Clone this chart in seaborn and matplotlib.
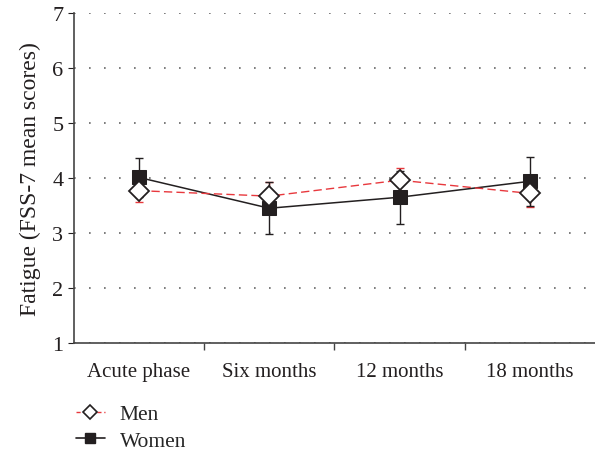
import numpy as np
import pandas as pd
import seaborn as sns
import matplotlib.pyplot as plt
from matplotlib.lines import Line2D

# values
timepoints = ['Acute phase', 'Six months', '12 months', '18 months']
men_mean = [3.77, 3.67, 3.96, 3.72]
men_err = [0.20, 0.25, 0.22, 0.25]
women_mean = [4.01, 3.45, 3.65, 3.94]
women_err = [0.35, 0.47, 0.48, 0.45]

df = pd.DataFrame({
    'time': timepoints * 2,
    'score': men_mean + women_mean,
    'sex': ['Men'] * 4 + ['Women'] * 4,
})

sns.set_style('ticks')
plt.rcParams['font.family'] = ['Liberation Serif', 'DejaVu Serif']

fig = plt.figure(figsize=(5.95, 4.52), dpi=100)
ax = fig.add_axes([0.124, 0.239, 0.876, 0.730])

xpos = np.arange(len(timepoints))

# error bars first so the markers sit on top
ax.errorbar(xpos, men_mean, yerr=men_err, fmt='none', ecolor='#e8383d',
            elinewidth=1.0, capsize=3, capthick=1.0, zorder=2)
ax.errorbar(xpos, women_mean, yerr=women_err, fmt='none', ecolor='#231f20',
            elinewidth=1.0, capsize=3, capthick=1.0, zorder=2)

sns.lineplot(data=df[df.sex == 'Women'], x='time', y='score', color='#231f20',
             marker='s', markersize=10, markeredgecolor='#231f20', linewidth=1.1,
             ax=ax, zorder=3, sort=False)
sns.lineplot(data=df[df.sex == 'Men'], x='time', y='score', color='#e8383d',
             linestyle=(0, (6, 3)), linewidth=1.0, marker='D', markersize=10,
             markerfacecolor='white', markeredgecolor='#231f20',
             markeredgewidth=1.3, ax=ax, zorder=4, sort=False)

ax.set_xlim(-0.5, 3.5)
ax.set_ylim(1, 7)
ax.set_yticks(range(1, 8))
ax.set_xticks(xpos[:-1] + 0.5, minor=True)
ax.yaxis.grid(True, linestyle=(0, (1, 8)), color='#666666', linewidth=1.2)
ax.set_axisbelow(True)
ax.set_xlabel('')
ax.set_ylabel('Fatigue (FSS-7 mean scores)', fontsize=17, color='#231f20',
              labelpad=8)
ax.tick_params(axis='y', labelsize=16, length=4, colors='#231f20')
ax.tick_params(axis='x', which='major', labelsize=15, length=0, pad=14,
               colors='#231f20')
ax.tick_params(axis='x', which='minor', length=5, width=1.0, colors='#444444')
for s in ['top', 'right']:
    ax.spines[s].set_visible(False)
for s in ['left', 'bottom']:
    ax.spines[s].set_color('#444444')
    ax.spines[s].set_linewidth(1.2)

handles = [
    Line2D([], [], color='#e8383d', linestyle=(0, (3, 2)), linewidth=1.0,
           marker='D', markersize=7, markerfacecolor='white',
           markeredgecolor='#231f20', markeredgewidth=1.2),
    Line2D([], [], color='#231f20', linewidth=1.2, marker='s', markersize=7),
]
fig.legend(handles, ['Men', 'Women'], loc='upper left',
           bbox_to_anchor=(0.127, 0.104), frameon=False, fontsize=15.5,
           handlelength=1.35, handletextpad=0.7, labelspacing=0.3,
           borderaxespad=0, borderpad=0)

fig.savefig('out.png', dpi=100)
